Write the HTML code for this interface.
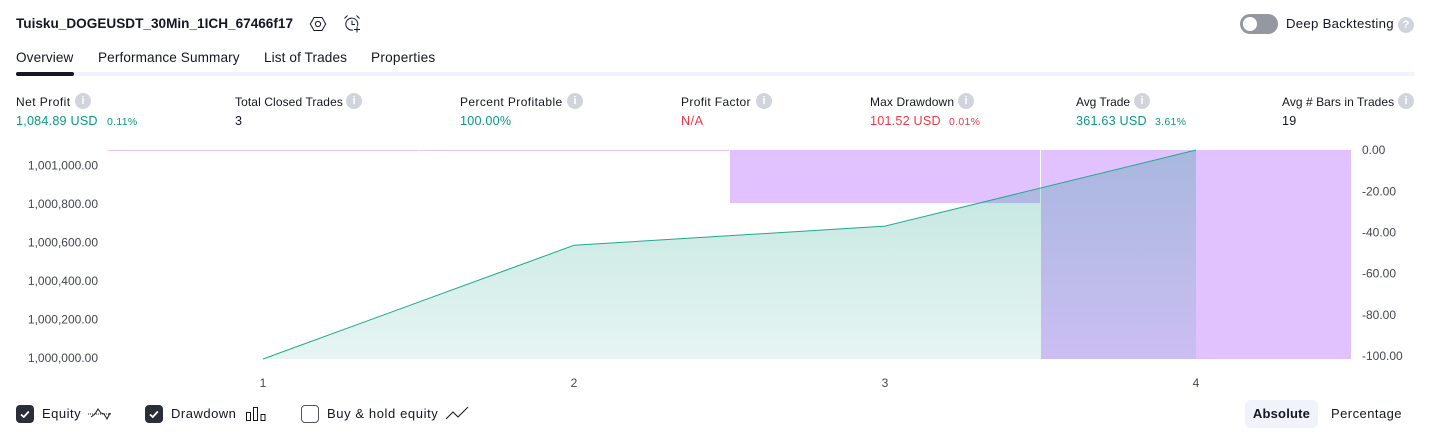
<!DOCTYPE html>
<html lang="en">
<head>
<meta charset="utf-8">
<title>Strategy Report</title>
<style>
html,body{margin:0;padding:0;background:#fff;width:1431px;height:438px;overflow:hidden}
body{font-family:"Liberation Sans",sans-serif;color:#131722;position:relative}
.t{position:absolute;white-space:nowrap;line-height:16px}
.tab{font-size:13.6px;letter-spacing:.1px;color:#131722;top:50px}
.lab{font-size:12px;letter-spacing:.1px;top:94px;color:#131722}
.val{font-size:12.6px;letter-spacing:.22px;top:113px}
.pct{font-size:10.5px;letter-spacing:.3px;top:114px}
.g{color:#089981}.r{color:#f23645}
.i{position:absolute;width:16px;height:16px;border-radius:50%;background:#d1d4dc;color:#fff;font-size:11px;font-weight:bold;line-height:16px;text-align:center}
.cb{position:absolute;top:405px;width:18px;height:18px;border-radius:4px;box-sizing:border-box}
.cb.on{background:#2a2e39}
.cb.off{border:1px solid #50535e;background:#fff}
.lg{font-size:13px;letter-spacing:.5px;top:406px}
svg{position:absolute;left:0;top:0}
svg text{font-family:"Liberation Sans",sans-serif}
</style>
</head>
<body>
<div class="t" style="left:16px;top:16px;font-size:13.6px;font-weight:bold;letter-spacing:0">Tuisku_DOGEUSDT_30Min_1ICH_67466f17</div>
<svg style="left:309px;top:15px" width="18" height="18" viewBox="0 0 18 18" fill="none" stroke="#131722" stroke-width="1"><path d="M5 2.500h8l3.700 6.500-3.700 6.500H5L1.300 9z"/><circle cx="9" cy="9" r="2.600"/></svg>
<svg style="left:343px;top:14px" width="20" height="20" viewBox="0 0 20 20" fill="none" stroke="#131722" stroke-width="1"><path d="M14.500 12A6 6 0 1 0 10 16"/><path d="M9 6.500V10.500H12"/><path d="M1.500 4.500L4.500 1.500M13.500 1.500L16.500 4.500M14 12.500V18.500M11 15.500H17"/></svg>
<div style="position:absolute;left:1240px;top:14px;width:38px;height:20px;border-radius:10px;background:#9598a1"><div style="position:absolute;left:3px;top:3px;width:14px;height:14px;border-radius:50%;background:#fff"></div></div>
<div class="t" style="left:1286px;top:16px;font-size:13.200px;letter-spacing:.28px">Deep Backtesting</div>
<div class="i" style="left:1398px;top:17px">?</div>

<div class="t tab" style="left:16px">Overview</div>
<div class="t tab" style="left:98px">Performance Summary</div>
<div class="t tab" style="left:264px">List of Trades</div>
<div class="t tab" style="left:371px;letter-spacing:.25px">Properties</div>
<div style="position:absolute;left:16px;top:72px;width:1399px;height:4px;background:#f0f3fa;border-radius:2px"></div>
<div style="position:absolute;left:16px;top:72px;width:58px;height:4px;background:#131722;border-radius:2px"></div>

<div class="t lab" style="left:16px;letter-spacing:.45px">Net Profit</div>
<div class="i" style="left:75px;top:93px">i</div>
<div class="t val g" style="left:16px">1,084.89 USD</div>
<div class="t pct g" style="left:107px">0.11%</div>

<div class="t lab" style="left:235px">Total Closed Trades</div>
<div class="i" style="left:346px;top:93px">i</div>
<div class="t val" style="left:235px">3</div>

<div class="t lab" style="left:460px;letter-spacing:.4px">Percent Profitable</div>
<div class="i" style="left:567px;top:93px">i</div>
<div class="t val g" style="left:460px">100.00%</div>

<div class="t lab" style="left:681px;letter-spacing:.35px">Profit Factor</div>
<div class="i" style="left:756px;top:93px">i</div>
<div class="t val r" style="left:681px;letter-spacing:.5px">N/A</div>

<div class="t lab" style="left:870px;letter-spacing:.12px">Max Drawdown</div>
<div class="i" style="left:958px;top:93px">i</div>
<div class="t val r" style="left:870px">101.52 USD</div>
<div class="t pct r" style="left:949px">0.01%</div>

<div class="t lab" style="left:1076px;letter-spacing:-.05px">Avg Trade</div>
<div class="i" style="left:1134px;top:93px">i</div>
<div class="t val g" style="left:1076px">361.63 USD</div>
<div class="t pct g" style="left:1155px">3.61%</div>

<div class="t lab" style="left:1282px;letter-spacing:.05px">Avg # Bars in Trades</div>
<div class="i" style="left:1398px;top:93px">i</div>
<div class="t val" style="left:1282px">19</div>

<svg id="chart" width="1431" height="438"></svg>

<div class="cb on" style="left:16px"><svg width="18" height="18" viewBox="0 0 18 18" fill="none" stroke="#fff" stroke-width="1.800"><path d="M5 9.500l2.800 2.500 5-5.500"/></svg></div>
<div class="t lg" style="left:42px">Equity</div>
<svg style="left:87px;top:404px" width="26" height="20" viewBox="0 0 26 20" fill="none" stroke="#131722" stroke-width="1"><path d="M4 13l4-3 3-5 3 4 3 1 3 5 3-6"/><path d="M1 10H25" stroke-dasharray="1 1"/></svg>

<div class="cb on" style="left:145px"><svg width="18" height="18" viewBox="0 0 18 18" fill="none" stroke="#fff" stroke-width="1.800"><path d="M5 9.500l2.800 2.500 5-5.500"/></svg></div>
<div class="t lg" style="left:171px">Drawdown</div>
<svg style="left:246px;top:406px" width="20" height="16" viewBox="0 0 20 16" fill="none" stroke="#131722" stroke-width="1"><rect x=".5" y="6.500" width="4" height="8"/><rect x="7.500" y="1.500" width="4" height="13"/><rect x="15" y="8.500" width="4" height="6"/></svg>

<div class="cb off" style="left:301px"></div>
<div class="t lg" style="left:327px;letter-spacing:.6px">Buy &amp; hold equity</div>
<svg style="left:445px;top:405px" width="24" height="18" viewBox="0 0 24 18" fill="none" stroke="#131722" stroke-width="1"><path d="M1 14l7-7 5 5 10-10"/></svg>

<div style="position:absolute;left:1245px;top:400px;width:73px;height:28px;border-radius:6px;background:#f0f3fa;font-size:13px;font-weight:bold;line-height:28px;text-align:center;letter-spacing:.2px">Absolute</div>
<div class="t" style="left:1331px;top:406px;font-size:13px;letter-spacing:.45px">Percentage</div>

<script>
// Chart data
var categories = [1, 2, 3, 4];
var equityValues = [1000000, 1000590, 1000690, 1001084.89];
var drawdownValues = [0, 0, -25.8, -101.52];
var equityTicks = [1000000, 1000200, 1000400, 1000600, 1000800, 1001000];
var equityTickLabels = ["1,000,000.00", "1,000,200.00", "1,000,400.00", "1,000,600.00", "1,000,800.00", "1,001,000.00"];
var drawdownTicks = [0, -20, -40, -60, -80, -100];
var drawdownTickLabels = ["0.00", "-20.00", "-40.00", "-60.00", "-80.00", "-100.00"];

var svg = document.getElementById('chart');
var NS = 'http://www.w3.org/2000/svg';
var plotL = 108, plotR = 1352, plotT = 150, plotB = 359;

function make(tag, attrs, parent) {
  var el = document.createElementNS(NS, tag);
  for (var k in attrs) el.setAttribute(k, attrs[k]);
  (parent || svg).appendChild(el);
  return el;
}
var step = (plotR - plotL) / categories.length;
function xBand(i) { return plotL + i * step; }
function xCenter(i) { return xBand(i) + step / 2 - 0.5; }
var eqMin = Math.min.apply(null, equityValues);
var eqMax = Math.max.apply(null, equityValues);
function yEquity(v) { return plotB - (v - eqMin) / (eqMax - eqMin) * (plotB - plotT); }
var ddMin = Math.min.apply(null, drawdownValues);
function yDrawdown(v) { return plotT + (v / ddMin) * (plotB - plotT); }

// gradient
var defs = make('defs', {});
var grad = make('linearGradient', {id: 'eqGrad', x1: 0, y1: 0, x2: 0, y2: 1}, defs);
make('stop', {offset: '0', 'stop-color': '#089981', 'stop-opacity': '0.26'}, grad);
make('stop', {offset: '1', 'stop-color': '#089981', 'stop-opacity': '0.1'}, grad);

// drawdown bars
drawdownValues.forEach(function (v, i) {
  var h = Math.max(yDrawdown(v) - plotT, 1);
  var r = make('rect', {x: Math.round(xBand(i)), y: plotT, width: Math.round(step) - 1, height: h, fill: '#e1c2ff'});
  
  
});

// equity area + line
var pts = equityValues.map(function (v, i) { return xCenter(i).toFixed(1) + ',' + yEquity(v).toFixed(1); });
var area = make('polygon', {
  points: pts.join(' ') + ' ' + xCenter(equityValues.length - 1).toFixed(1) + ',' + plotB + ' ' + xCenter(0).toFixed(1) + ',' + plotB,
  fill: 'url(#eqGrad)'
});


var line = make('polyline', {points: pts.join(' '), fill: 'none', stroke: '#1fa98f', 'stroke-width': 1});



// axes
equityTicks.forEach(function (v, i) {
  var t = make('text', {x: 98, y: yEquity(v) + 3, 'text-anchor': 'end', 'font-size': 12, fill: '#434651'});
  t.textContent = equityTickLabels[i];
  
  
});
drawdownTicks.forEach(function (v, i) {
  var t = make('text', {x: 1362, y: yDrawdown(v) + 4.2, 'font-size': 12, fill: '#434651'});
  t.textContent = drawdownTickLabels[i];
  
  
});
categories.forEach(function (c, i) {
  var t = make('text', {x: xCenter(i), y: 387, 'text-anchor': 'middle', 'font-size': 12, fill: '#434651'});
  t.textContent = c;
  
  
});
</script>
</body>
</html>
